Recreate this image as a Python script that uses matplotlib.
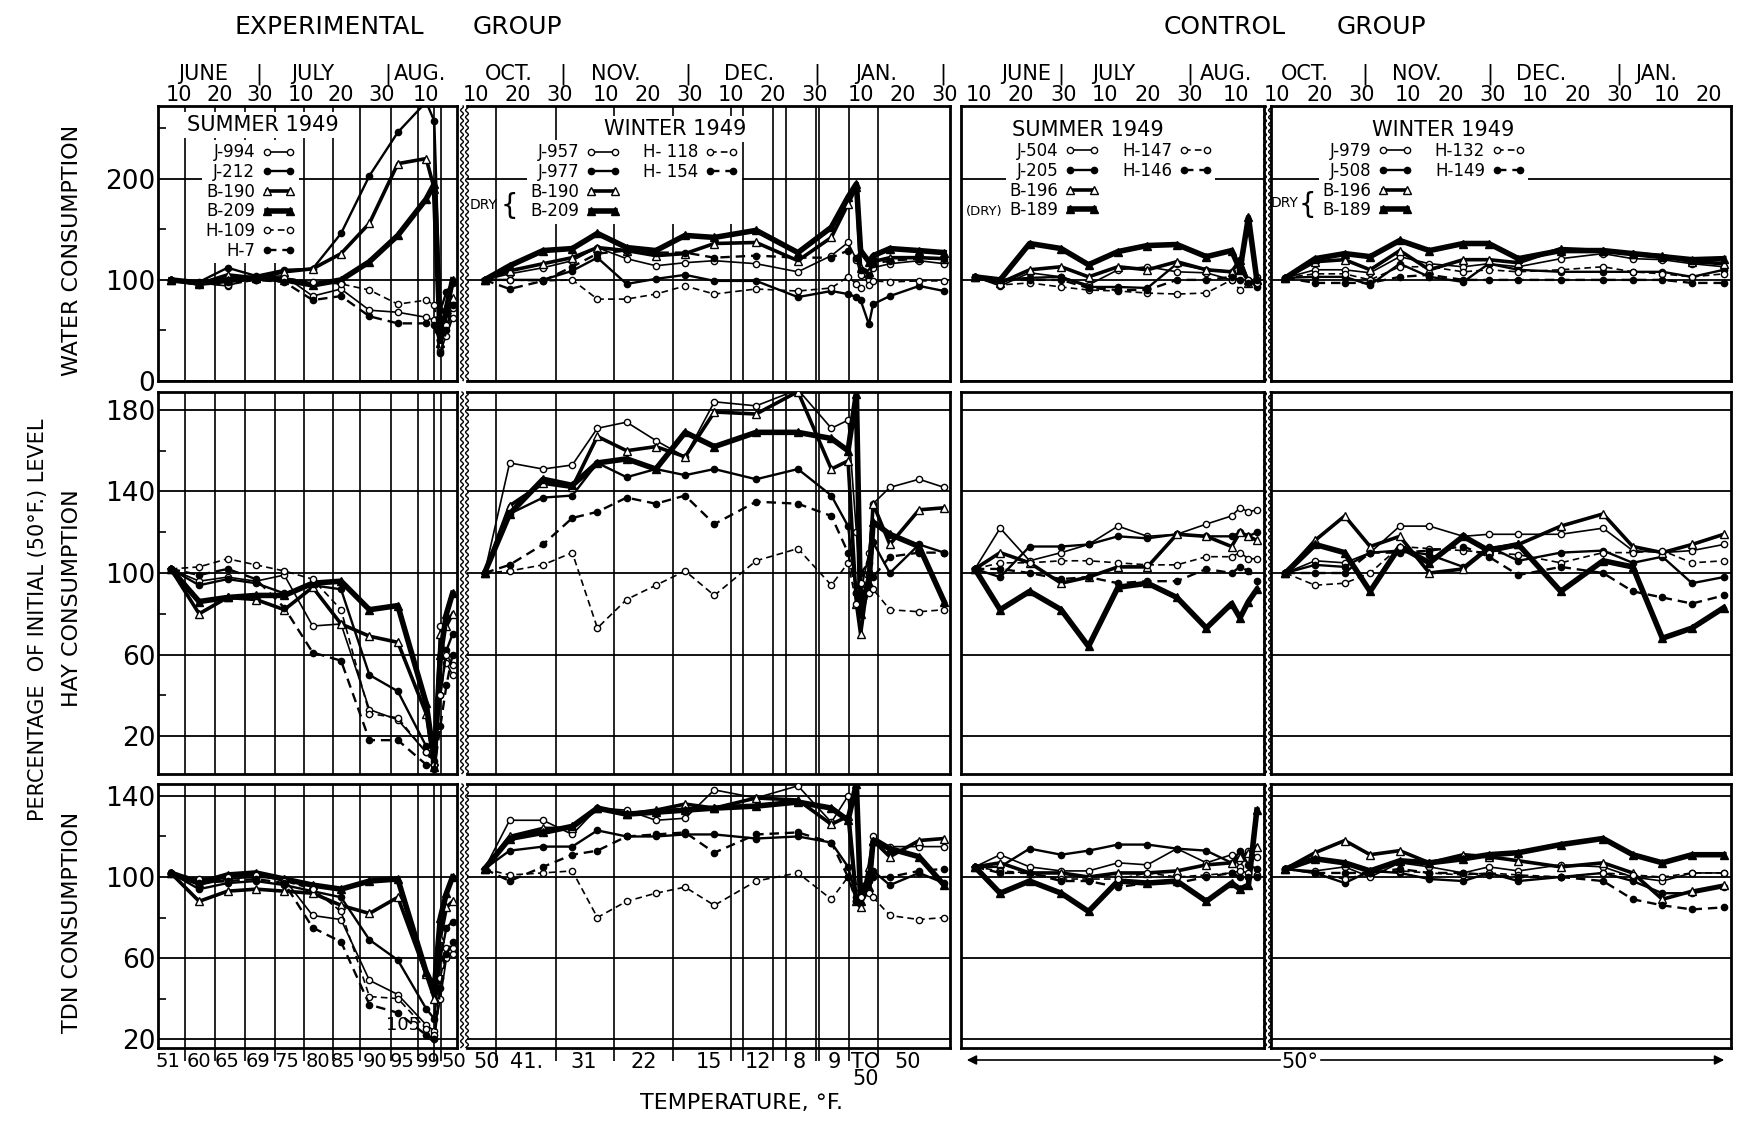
#!/usr/bin/env python3
"""Water, hay and TDN consumption as % of the initial (50 F) level,
experimental vs control group, summer and winter 1949."""

import matplotlib

matplotlib.use("Agg")
import matplotlib.pyplot as plt
import matplotlib.transforms as mtransforms
import numpy as np
from matplotlib.lines import Line2D

# ---------------------------------------------------------------- data
# x values are days: summer = days from June 1, winter = days from Oct 1
es_days = [8, 15, 22, 29, 36, 43, 50, 57, 64, 71, 73, 74.5, 76, 77.5]
ew_days = [12, 18, 26, 33, 39, 46, 53, 60, 67, 77, 87, 95, 99, 101, 102, 104, 105, 109, 116, 122]
cs_days = [9, 15, 22, 29.5, 36, 43, 50, 57, 64, 70, 72, 74, 76]
cw_days = [12, 19, 26, 32, 39, 46, 54, 60, 67, 77, 87, 94, 101, 108, 115.5]

# series order in every panel: J open, J filled, B open, B filled, H open, H filled
es_labels = ["J-994", "J-212", "B-190", "B-209", "H-109", "H-7"]
ew_labels = ["J-957", "J-977", "B-190", "B-209", "H- 118", "H- 154"]
cs_labels = ["J-504", "J-205", "B-196", "B-189", "H-147", "H-146"]
cw_labels = ["J-979", "J-508", "B-196", "B-189", "H-132", "H-149"]

# experimental, summer
es_water = [
    [100, 97, 94, 103, 104, 84, 91, 70, 68, 63, 60, 30, 45, 62],
    [100, 98, 112, 104, 110, 111, 146, 203, 246, 276, 257, 70, 88, 97],
    [100, 96, 105, 102, 108, 111, 126, 156, 215, 220, 190, 50, 62, 82],
    [100, 97, 100, 102, 100, 95, 100, 118, 144, 180, 195, 38, 72, 100],
    [100, 96, 95, 100, 102, 98, 96, 90, 76, 80, 75, 35, 55, 72],
    [100, 95, 98, 100, 98, 80, 84, 64, 57, 57, 55, 28, 50, 75],
]
es_hay = [
    [102, 96, 98, 96, 99, 74, 75, 33, 28, 12, 8, 74, 56, 50],
    [102, 94, 97, 95, 90, 94, 92, 50, 42, 15, 6, 40, 62, 70],
    [102, 80, 88, 87, 82, 93, 75, 69, 66, 31, 5, 70, 74, 80],
    [102, 86, 88, 89, 89, 95, 96, 82, 84, 36, 8, 60, 80, 90],
    [102, 103, 107, 104, 101, 97, 82, 31, 29, 12, 6, 40, 60, 55],
    [102, 99, 102, 97, 83, 61, 57, 18, 18, 6, 4, 25, 45, 60],
]
es_tdn = [
    [102, 96, 99, 100, 99, 81, 79, 49, 42, 27, 24, 40, 60, 62],
    [102, 94, 97, 98, 96, 93, 90, 69, 59, 35, 30, 60, 75, 78],
    [102, 88, 93, 94, 93, 92, 86, 82, 90, 52, 40, 70, 85, 88],
    [102, 97, 101, 102, 99, 96, 94, 98, 99, 53, 45, 80, 92, 100],
    [102, 99, 100, 101, 98, 94, 83, 41, 40, 25, 22, 50, 65, 65],
    [102, 97, 98, 99, 97, 75, 68, 37, 33, 22, 20, 45, 62, 68],
]

# experimental, winter
ew_water = [
    [100, 106, 112, 119, 132, 121, 114, 117, 119, 116, 108, 124, 137, 120, 105, 100, 112, 116, 119, 116],
    [100, 100, 100, 109, 122, 96, 101, 105, 99, 99, 83, 89, 86, 83, 80, 56, 76, 84, 94, 89],
    [100, 109, 116, 122, 132, 129, 124, 126, 136, 137, 119, 142, 175, 192, 112, 108, 118, 122, 122, 121],
    [100, 114, 129, 131, 146, 132, 129, 144, 142, 149, 127, 152, 182, 195, 129, 118, 124, 131, 129, 127],
    [100, 100, 99, 100, 81, 81, 86, 94, 86, 91, 89, 92, 103, 96, 92, 95, 99, 98, 99, 99],
    [100, 91, 99, 113, 126, 129, 127, 127, 122, 124, 122, 122, 129, 122, 110, 105, 116, 119, 121, 121],
]
ew_hay = [
    [100, 154, 151, 153, 171, 174, 165, 157, 184, 182, 190, 171, 175, 120, 90, 110, 134, 142, 146, 142],
    [100, 129, 137, 138, 154, 147, 151, 148, 151, 146, 151, 138, 123, 90, 85, 100, 115, 100, 114, 110],
    [100, 133, 144, 142, 167, 160, 162, 157, 179, 178, 189, 151, 155, 85, 70, 100, 134, 114, 131, 132],
    [100, 129, 146, 143, 154, 156, 151, 169, 162, 169, 169, 166, 160, 188, 80, 95, 125, 119, 113, 86],
    [100, 101, 104, 110, 73, 87, 94, 101, 89, 106, 112, 94, 105, 85, 95, 90, 92, 82, 81, 82],
    [100, 104, 114, 127, 130, 137, 134, 138, 124, 135, 134, 128, 110, 90, 100, 105, 98, 108, 110, 110],
]
ew_tdn = [
    [104, 128, 128, 121, 134, 133, 128, 129, 143, 139, 145, 127, 140, 95, 90, 100, 120, 115, 115, 115],
    [104, 113, 115, 115, 123, 120, 120, 121, 121, 119, 120, 117, 105, 90, 92, 98, 103, 96, 102, 97],
    [104, 120, 124, 124, 134, 131, 133, 136, 134, 139, 138, 126, 130, 88, 85, 105, 118, 110, 118, 119],
    [104, 119, 122, 125, 134, 131, 132, 133, 134, 135, 137, 134, 128, 146, 88, 95, 118, 114, 110, 96],
    [104, 101, 102, 103, 80, 88, 92, 95, 86, 98, 102, 89, 100, 88, 90, 92, 90, 81, 79, 80],
    [104, 98, 105, 111, 113, 120, 121, 122, 112, 121, 122, 117, 100, 88, 95, 100, 100, 100, 103, 104],
]

# control, summer
cs_water = [
    [103, 94, 107, 103, 95, 110, 113, 108, 107, 100, 110, 97, 103],
    [103, 100, 102, 103, 93, 93, 92, 116, 110, 108, 120, 100, 93],
    [103, 97, 110, 113, 103, 113, 110, 118, 110, 108, 120, 97, 100],
    [103, 100, 136, 131, 115, 128, 134, 135, 123, 129, 110, 162, 100],
    [103, 95, 97, 93, 90, 89, 87, 86, 87, 100, 90, 100, 97],
    [103, 100, 100, 100, 92, 90, 90, 100, 100, 103, 100, 97, 100],
]
cs_hay = [
    [102, 122, 106, 110, 114, 123, 118, 119, 124, 128, 132, 130, 131],
    [102, 98, 113, 113, 114, 118, 117, 119, 118, 118, 120, 118, 120],
    [102, 110, 105, 95, 98, 103, 103, 119, 118, 113, 120, 118, 116],
    [102, 82, 91, 82, 64, 93, 95, 88, 73, 85, 78, 86, 92],
    [102, 105, 105, 106, 106, 105, 104, 104, 108, 108, 110, 107, 107],
    [102, 102, 100, 97, 98, 95, 96, 96, 102, 100, 103, 101, 96],
]
cs_tdn = [
    [105, 111, 105, 103, 103, 107, 106, 114, 107, 111, 105, 113, 110],
    [105, 105, 114, 111, 113, 116, 116, 114, 113, 107, 113, 106, 104],
    [105, 107, 102, 102, 100, 102, 102, 103, 106, 107, 110, 112, 115],
    [105, 92, 98, 92, 83, 98, 97, 98, 88, 97, 94, 96, 133],
    [105, 103, 102, 99, 99, 99, 102, 100, 101, 102, 103, 102, 101],
    [105, 102, 102, 98, 98, 95, 97, 97, 100, 102, 100, 100, 100],
]

# control, winter
cw_water = [
    [102, 110, 110, 107, 123, 116, 113, 116, 113, 121, 126, 121, 120, 116, 113],
    [102, 103, 103, 95, 116, 103, 98, 116, 110, 108, 108, 108, 108, 103, 110],
    [102, 118, 120, 110, 129, 110, 120, 120, 117, 131, 129, 126, 124, 118, 116],
    [102, 121, 126, 123, 139, 129, 136, 136, 121, 129, 129, 126, 123, 120, 121],
    [102, 106, 106, 100, 113, 113, 108, 110, 108, 110, 113, 108, 106, 103, 106],
    [102, 97, 97, 97, 103, 105, 100, 100, 100, 100, 100, 100, 100, 97, 97],
]
cw_hay = [
    [100, 106, 105, 110, 123, 123, 118, 119, 119, 119, 122, 111, 110, 111, 114],
    [100, 104, 103, 110, 111, 109, 103, 113, 106, 110, 111, 105, 108, 95, 98],
    [100, 116, 128, 113, 118, 100, 102, 112, 114, 123, 129, 113, 110, 114, 119],
    [100, 114, 110, 91, 113, 105, 118, 111, 114, 91, 106, 103, 68, 73, 83],
    [100, 94, 95, 100, 113, 112, 111, 110, 109, 105, 110, 110, 111, 105, 106],
    [100, 100, 100, 110, 110, 111, 113, 108, 99, 103, 100, 91, 88, 85, 89],
]
cw_tdn = [
    [104, 103, 105, 100, 107, 105, 102, 105, 103, 106, 105, 100, 98, 102, 102],
    [104, 102, 97, 103, 102, 99, 98, 102, 98, 100, 102, 98, 92, 92, 95],
    [104, 112, 118, 111, 113, 107, 111, 110, 108, 105, 107, 102, 89, 93, 96],
    [104, 109, 107, 103, 108, 107, 109, 111, 112, 116, 119, 111, 107, 111, 111],
    [104, 102, 99, 102, 103, 102, 101, 102, 101, 100, 102, 101, 100, 102, 102],
    [104, 102, 102, 102, 104, 102, 102, 101, 100, 100, 98, 89, 86, 84, 85],
]

# calendar labels along the top
es_day_ticks = [10, 20, 30, 40, 50, 60, 71]
ew_day_ticks = [10, 20, 30, 41, 51, 61, 71, 81, 91, 102, 112, 122]
cs_day_ticks = [10, 20, 30, 40, 50, 60, 71]
cw_day_ticks = [10, 20, 30, 41, 51, 61, 71, 81, 91, 102, 112]
day_names = ["10", "20", "30"]
es_months = [(16.1, "JUNE"), (29.7, "|"), (43, "JULY"), (61.5, "|"), (69.5, "AUG.")]
ew_months = [(17.7, "OCT."), (30.8, "|"), (43.5, "NOV."), (60.7, "|"), (75.3, "DEC."),
             (91.6, "|"), (105.7, "JAN."), (121.7, "|")]
cs_months = [(21.2, "JUNE"), (29.5, "|"), (42, "JULY"), (60, "|"), (68.7, "AUG.")]
cw_months = [(16.6, "OCT."), (30.7, "|"), (43, "NOV."), (60.2, "|"), (72.4, "DEC."),
             (90.8, "|"), (99.5, "JAN.")]

# temperature stages (experimental group) along the bottom
es_stage_edges = [11.5, 18.8, 26.4, 33.8, 40.9, 48, 54.6, 62.2, 69.1, 73, 74.7]
ew_stage_edges = [14.8, 29.1, 43, 57.1, 71, 73.9, 81, 84.2, 91.3, 92, 99.2, 106.2]
es_temp_pos = [7.3, 14.9, 22, 29.6, 36.7, 44.2, 50.5, 58.3, 65.1, 71.6, 77.8]
es_temp_labels = ["51", "60", "65", "69", "75", "80", "85", "90", "95", "99", "50"]
ew_temp_pos = [12.4, 22, 35.8, 50, 65.7, 77.5, 87.3, 95.6, 103.3, 113.3]
ew_temp_labels = ["50", "41.", "31", "22", "15", "12", "8", "9", "TO\n50", "50"]

# ---------------------------------------------------------------- layout
W, H = 1741, 1130
fig = plt.figure(figsize=(W / 100, H / 100), dpi=100)
fig.patch.set_facecolor("white")
plt.rcParams["font.family"] = "DejaVu Sans"

COLS = {"es": (158, 457), "ew": (467, 950), "cs": (961, 1264), "cw": (1271, 1731)}
ROWS = [(106, 381), (392, 774), (784, 1048)]
XLIM = {"es": (4.85, 78.6), "ew": (7.8, 123.4), "cs": (5.7, 77.7), "cw": (8.6, 117.2)}
YLIM = [(0, 272), (1.4, 188.8), (15.6, 145.9)]
YMAJOR = [[0, 100, 200], [20, 60, 100, 140, 180], [20, 60, 100, 140]]
YMINOR = [[50, 150, 250], [40, 80, 120, 160], [40, 80, 120]]
GRID_X = {"es": es_stage_edges, "ew": ew_stage_edges}

STYLES = [
    dict(ls="-", lw=1.2, marker="o", mfc="white", ms=4.5),
    dict(ls="-", lw=1.7, marker="o", mfc="black", ms=4.5),
    dict(ls="-", lw=2.6, marker="^", mfc="white", ms=6),
    dict(ls="-", lw=4.0, marker="^", mfc="black", ms=6),
    dict(ls=(0, (4, 2.5)), lw=1.2, marker="o", mfc="white", ms=4.5),
    dict(ls=(0, (4, 2.5)), lw=1.7, marker="o", mfc="black", ms=4.5),
]

PANELS = {
    "es": (es_days, [es_water, es_hay, es_tdn]),
    "ew": (ew_days, [ew_water, ew_hay, ew_tdn]),
    "cs": (cs_days, [cs_water, cs_hay, cs_tdn]),
    "cw": (cw_days, [cw_water, cw_hay, cw_tdn]),
}


def make_axes(col, row):
    x0, x1 = COLS[col]
    y0, y1 = ROWS[row]
    ax = fig.add_axes([x0 / W, 1 - y1 / H, (x1 - x0) / W, (y1 - y0) / H])
    ax.set_xlim(XLIM[col])
    ax.set_ylim(YLIM[row])
    for s in ax.spines.values():
        s.set_linewidth(2)
    ax.tick_params(which="both", left=False, bottom=False, labelleft=False, labelbottom=False)
    for y in YMAJOR[row]:
        ax.axhline(y, color="black", lw=1.3, zorder=1)
    for x in GRID_X.get(col, []):
        ax.axvline(x, color="black", lw=1.2, zorder=1)
    return ax


axes = {}
for col, (days, rows) in PANELS.items():
    for r, series in enumerate(rows):
        ax = make_axes(col, r)
        axes[(col, r)] = ax
        for vals, st in zip(series, STYLES):
            ax.plot(days, vals, color="black", mec="black", mew=1.0, zorder=3, **st)

# y scales on the left column
for r in range(3):
    ax = axes[("es", r)]
    ax.set_yticks(YMAJOR[r])
    ax.set_yticklabels([str(v) for v in YMAJOR[r]], fontsize=19)
    ax.set_yticks(YMINOR[r], minor=True)
    ax.tick_params(axis="y", which="major", left=True, labelleft=True, length=0, pad=2)
    ax.tick_params(axis="y", which="minor", left=True, direction="in", length=6, width=1.2)

# calendar along the top row
tops = {"es": (es_day_ticks, es_months), "ew": (ew_day_ticks, ew_months),
        "cs": (cs_day_ticks, cs_months), "cw": (cw_day_ticks, cw_months)}
for col, (ticks, months) in tops.items():
    ax = axes[(col, 0)]
    ax.set_xticks(ticks)
    ax.set_xticklabels([day_names[i % 3] for i in range(len(ticks))], fontsize=15)
    ax.tick_params(axis="x", which="major", top=True, labeltop=True, bottom=False,
                   labelbottom=False, length=0, pad=1)
    trans = mtransforms.blended_transform_factory(ax.transData, ax.transAxes)
    for x, s in months:
        ax.text(x, 1.115, s, transform=trans, ha="center", va="center", fontsize=15)

# temperature stages along the bottom of the experimental panels
bottoms = {"es": (es_stage_edges, es_temp_pos, es_temp_labels, 14),
           "ew": (ew_stage_edges, ew_temp_pos, ew_temp_labels, 15)}
for col, (edges, pos, labels, size) in bottoms.items():
    ax = axes[(col, 2)]
    ax.set_xticks(edges)
    ax.set_xticks(pos, minor=True)
    ax.set_xticklabels(labels, minor=True, fontsize=size, linespacing=0.8)
    ax.tick_params(axis="x", which="major", bottom=True, direction="out", length=9,
                   width=1.2, labelbottom=False)
    ax.tick_params(axis="x", which="minor", bottom=True, length=0, labelbottom=True, pad=3)

axes[("es", 2)].annotate("105", xy=(73.5, 18), xytext=(65.2, 27), fontsize=13,
                         ha="center", va="center",
                         arrowprops=dict(arrowstyle="-", color="black", lw=0.8))


# legends
def add_legend(ax, labels, anchor, two_cols):
    handles = [Line2D([], [], color="black", mec="black", mew=1.0, **st) for st in STYLES]
    labels = list(labels)
    ncol = 1
    if two_cols:
        blank = Line2D([], [], ls="none", marker="")
        handles = handles + [blank, blank]
        labels = labels + ["", ""]
        ncol = 2
    ax.legend(handles, labels, loc="upper left", bbox_to_anchor=anchor, ncol=ncol,
              markerfirst=False, frameon=True, fancybox=False, edgecolor="none",
              facecolor="white", framealpha=1, fontsize=12, handlelength=2.0,
              handletextpad=0.4, labelspacing=0.1, borderpad=0.2, borderaxespad=0,
              columnspacing=1.4, numpoints=2)


add_legend(axes[("es", 0)], es_labels, (0.147, 0.876), False)
add_legend(axes[("ew", 0)], ew_labels, (0.125, 0.876), True)
add_legend(axes[("cs", 0)], cs_labels, (0.15, 0.88), True)
add_legend(axes[("cw", 0)], cw_labels, (0.105, 0.88), True)

titles = {"es": ("SUMMER 1949", 0.351, 0.931), "ew": ("WINTER 1949", 0.431, 0.916),
          "cs": ("SUMMER 1949", 0.419, 0.913), "cw": ("WINTER 1949", 0.374, 0.913)}
for col, (s, x, y) in titles.items():
    axes[(col, 0)].text(x, y, s, transform=axes[(col, 0)].transAxes, ha="center",
                        va="center", fontsize=15, zorder=6,
                        bbox=dict(facecolor="white", edgecolor="none", pad=2))

ax = axes[("ew", 0)]
ax.text(0.035, 0.64, "DRY", transform=ax.transAxes, ha="center", va="center", fontsize=10, zorder=7)
ax.text(0.088, 0.635, "{", transform=ax.transAxes, ha="center", va="center", fontsize=20, zorder=7)
ax = axes[("cs", 0)]
ax.text(0.075, 0.615, "(DRY)", transform=ax.transAxes, ha="center", va="center", fontsize=9.5, zorder=7)
ax = axes[("cw", 0)]
ax.text(0.03, 0.647, "DRY", transform=ax.transAxes, ha="center", va="center", fontsize=10, zorder=7)
ax.text(0.08, 0.64, "{", transform=ax.transAxes, ha="center", va="center", fontsize=20, zorder=7)

# wavy breaks between summer and winter panels
for xc in (462, 467, 1265, 1270):
    for y0, y1 in ROWS:
        ys = np.arange(y0, y1, 0.5)
        xs = xc + 1.4 * np.sin(2 * np.pi * ys / 7.0)
        fig.add_artist(Line2D(xs / W, 1 - ys / H, transform=fig.transFigure,
                              color="black", lw=1.0))
for r in range(3):
    axes[("ew", r)].spines["left"].set_visible(False)

# group titles and axis titles
for x, s in [(329, "EXPERIMENTAL"), (517, "GROUP"), (1225, "CONTROL"), (1381, "GROUP")]:
    fig.text(x / W, 1 - 27 / H, s, ha="center", va="center", fontsize=18)
for y, s in [(250, "WATER CONSUMPTION"), (598, "HAY CONSUMPTION"), (922, "TDN CONSUMPTION")]:
    fig.text(72 / W, 1 - y / H, s, rotation=90, ha="center", va="center", fontsize=16)
fig.text(38 / W, 1 - 620 / H, "PERCENTAGE  OF INITIAL (50\u00b0F.) LEVEL", rotation=90,
         ha="center", va="center", fontsize=15)
fig.text(742 / W, 1 - 1103 / H, "TEMPERATURE, \u00b0F.", ha="center", va="center", fontsize=16)

# control group: constant 50 F
ax = axes[("cw", 2)]
ax.annotate("", xy=(964 / W, 1 - 1060 / H), xytext=(1283 / W, 1 - 1060 / H),
            xycoords="figure fraction", textcoords="figure fraction", annotation_clip=False,
            arrowprops=dict(arrowstyle="-|>", color="black", lw=1.2, mutation_scale=14))
ax.annotate("", xy=(1727 / W, 1 - 1060 / H), xytext=(1318 / W, 1 - 1060 / H),
            xycoords="figure fraction", textcoords="figure fraction", annotation_clip=False,
            arrowprops=dict(arrowstyle="-|>", color="black", lw=1.2, mutation_scale=14))
fig.text(1300 / W, 1 - 1062 / H, "50\u00b0", ha="center", va="center", fontsize=15)

fig.savefig("out.png", dpi=100, facecolor="white")
plt.close(fig)
